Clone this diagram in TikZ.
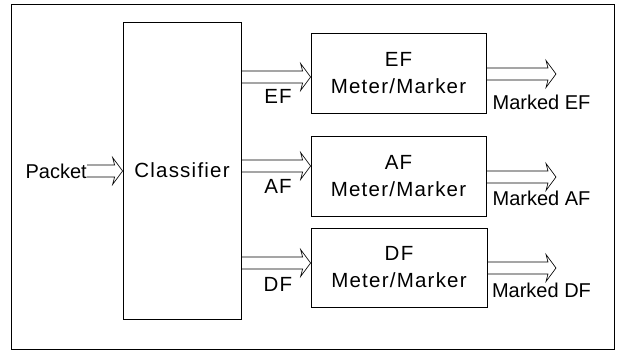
\documentclass[tikz,border=0pt]{standalone}
\usepackage{fontspec}
\setmainfont{Liberation Sans}[LetterSpace=6]
\newfontfamily\tightfont{Liberation Sans}
\usetikzlibrary{calc}
\tikzset{
  box/.style={draw, line width=0.8pt, inner sep=0pt, align=center},
  lbl/.style={inner sep=0pt, font=\fontsize{20.5}{27}\selectfont},
  tlbl/.style={inner sep=0pt, font=\tightfont\fontsize{20}{24}\selectfont},
  harrow/.style={line width=0.65pt, line join=miter}
}
\newcommand\hollowarrow[2]{%
  \draw[harrow] let \p1=(#1), \p2=(#2) in
    (\x1,\y1+6) -- (\x2-8,\y1+6) -- (\x2-10,\y1+13.5) -- (\x2,\y1)
    -- (\x2-10,\y1-13.5) -- (\x2-8,\y1-6) -- (\x1,\y1-6);}
\begin{document}
\begin{tikzpicture}[x=1pt,y=-1pt]
\useasboundingbox (0,0) rectangle (619,351);
\draw[line width=0.9pt] (11,4) rectangle (614,349);
% classifier
\node[box, minimum width=118pt, minimum height=297pt, lbl] (cls) at (182,170.5) {Classifier};
\node[tlbl, anchor=east] (pkt) at (87,171) {Packet};
% meter boxes
\node[box, minimum width=175pt, minimum height=80pt, lbl] (ef) at (398.5,73) {EF\\Meter/Marker};
\node[box, minimum width=175pt, minimum height=80pt, lbl] (af) at (398.5,176) {AF\\Meter/Marker};
\node[box, minimum width=176pt, minimum height=79pt, lbl] (df) at (399,267.5) {DF\\Meter/Marker};
% arrows
\hollowarrow{pkt.east |- 0,171}{cls.west |- 0,171}
\hollowarrow{cls.east |- 0,77}{ef.west |- 0,77}
\hollowarrow{cls.east |- 0,166}{af.west |- 0,166}
\hollowarrow{cls.east |- 0,263}{df.west |- 0,263}
\coordinate (oef) at (556,74);
\coordinate (oaf) at (556,177);
\coordinate (odf) at (556,268);
\hollowarrow{ef.east |- oef}{oef}
\hollowarrow{af.east |- oaf}{oaf}
\hollowarrow{df.east |- odf}{odf}
% labels
\node[lbl] (lef) at (278,96) {EF};
\node[lbl] (laf) at (278,186) {AF};
\node[lbl] (ldf) at (278,284) {DF};
\node[tlbl] (mef) at (541.5,102) {Marked EF};
\node[tlbl] (maf) at (541.5,198) {Marked AF};
\node[tlbl] (mdf) at (541.5,290) {Marked DF};
\end{tikzpicture}
\end{document}
